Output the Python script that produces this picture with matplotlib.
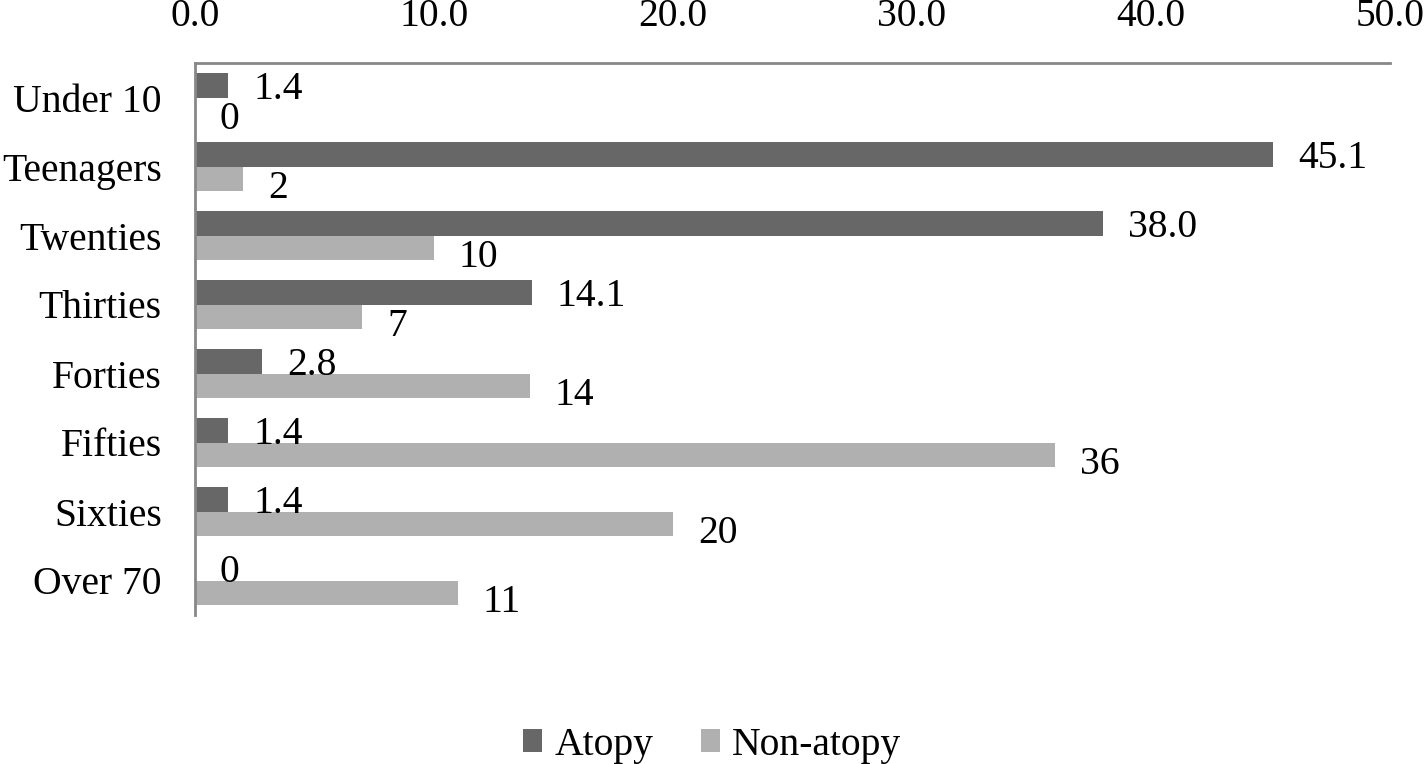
import matplotlib
matplotlib.use("Agg")
import matplotlib.pyplot as plt
import numpy as np

categories = ["Under 10", "Teenagers", "Twenties", "Thirties", "Forties", "Fifties", "Sixties", "Over 70"]
atopy = [1.4, 45.1, 38.0, 14.1, 2.8, 1.4, 1.4, 0]
non_atopy = [0, 2, 10, 7, 14, 36, 20, 11]
atopy_labels = ["1.4", "45.1", "38.0", "14.1", "2.8", "1.4", "1.4", "0"]
non_atopy_labels = ["0", "2", "10", "7", "14", "36", "20", "11"]
xticks = [0, 10, 20, 30, 40, 50]

plt.rcParams['font.family'] = ['Liberation Serif', 'DejaVu Serif']

fig = plt.figure(figsize=(14.24, 7.64), dpi=100)
ax = fig.add_axes([195/1424, 1-615/764, (1390-195)/1424, (615-63)/764])

y = np.arange(len(categories))
h = 0.35
c_dark = "#676767"
c_light = "#b0b0b0"
b1 = ax.barh(y - h/2, atopy, height=h, color=c_dark, label="Atopy")
b2 = ax.barh(y + h/2, non_atopy, height=h, color=c_light, label="Non-atopy")

fs = 28.5
for yi, v, t in zip(y, atopy, atopy_labels):
    ax.annotate(t, (v, yi - h/2), xytext=(18, 0), textcoords="offset points",
                ha="left", va="center_baseline", fontsize=fs)
for yi, v, t in zip(y, non_atopy, non_atopy_labels):
    ax.annotate(t, (v, yi + h/2), xytext=(18, -4), textcoords="offset points",
                ha="left", va="center_baseline", fontsize=fs)

ax.set_xlim(0, 50)
ax.set_ylim(len(categories) - 0.5, -0.5)
ax.set_yticks(y)
ax.set_yticklabels(categories, fontsize=fs)
ax.xaxis.tick_top()
ax.set_xticks(xticks)
ax.set_xticklabels([f"{t:.1f}" for t in xticks], fontsize=fs)
ax.tick_params(axis="both", length=0)
ax.tick_params(axis="x", pad=20)
ax.tick_params(axis="y", pad=24)
for s in ["bottom", "right"]:
    ax.spines[s].set_visible(False)
for s in ["top", "left"]:
    ax.spines[s].set_color("#888888")
    ax.spines[s].set_linewidth(2)

fig.legend(handles=[b1, b2], loc="center", bbox_to_anchor=(0.5, 1-745/764), ncol=2,
           frameon=False, fontsize=fs, handlelength=0.5, handleheight=0.5,
           handletextpad=0.3, columnspacing=1.2, borderpad=0)

fig.savefig("out.png", dpi=100)
